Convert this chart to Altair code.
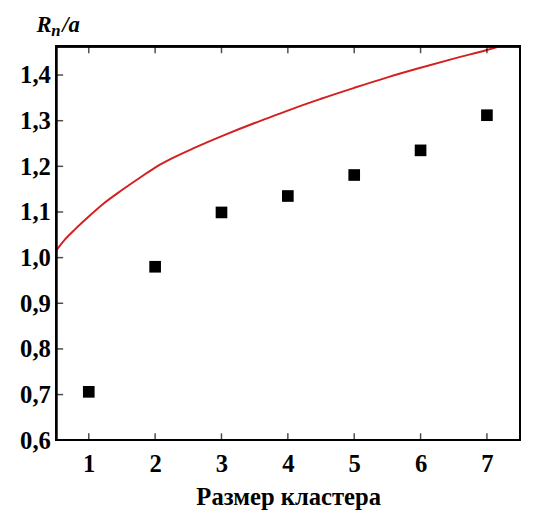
import altair as alt
import pandas as pd

# Data
cluster_size = [1, 2, 3, 4, 5, 6, 7]
rn_over_a = [0.706, 0.980, 1.099, 1.135, 1.181, 1.235, 1.312]

curve_x = [0.51, 0.63, 0.8, 1.0, 1.22, 1.5, 1.77, 2.03, 2.26, 2.6, 3.05, 3.5,
           3.89, 4.07, 4.5, 5.0, 5.5, 6.0, 6.5, 7.0, 7.15]
curve_y = [1.016, 1.038, 1.063, 1.090, 1.118, 1.148, 1.175, 1.200, 1.218, 1.241,
           1.269, 1.295, 1.316, 1.326, 1.348, 1.372, 1.395, 1.416, 1.436, 1.455, 1.461]

x_ticks = [1, 2, 3, 4, 5, 6, 7]
y_ticks = [0.6, 0.7, 0.8, 0.9, 1.0, 1.1, 1.2, 1.3, 1.4]

W, H = 471, 400
FONT = "Liberation Serif"

pts = pd.DataFrame({"n": cluster_size, "r": rn_over_a})
crv = pd.DataFrame({"n": curve_x, "r": curve_y})
xt = pd.DataFrame({"v": x_ticks})
yt = pd.DataFrame({"v": y_ticks})
one = pd.DataFrame({"k": [0]})

xscale = alt.Scale(domain=[0.51, 7.5], nice=False, zero=False)
yscale = alt.Scale(domain=[0.6, 1.463], nice=False, zero=False)

xaxis = alt.Axis(values=x_ticks, ticks=False, domain=False, grid=False, format="d",
                 labelFont=FONT, labelFontSize=25, labelFontWeight="bold",
                 labelColor="black", labelPadding=12,
                 title="Размер кластера", titleFont=FONT, titleFontSize=25,
                 titleFontWeight="bold", titleColor="black", titlePadding=8)
yaxis = alt.Axis(values=y_ticks, ticks=False, domain=False, grid=False,
                 labelFont=FONT, labelFontSize=25, labelFontWeight="bold",
                 labelColor="black", labelPadding=6,
                 labelExpr="replace(format(datum.value, '.1f'), '.', ',')",
                 title=None)

line = alt.Chart(crv).mark_line(color="#d42020", strokeWidth=2,
                                interpolate="monotone").encode(
    x=alt.X("n:Q", scale=xscale, axis=xaxis),
    y=alt.Y("r:Q", scale=yscale, axis=yaxis),
)

squares = alt.Chart(pts).mark_square(color="black", opacity=1, size=140, filled=True).encode(
    x=alt.X("n:Q", scale=xscale),
    y=alt.Y("r:Q", scale=yscale),
)

frame = alt.Chart(pts).mark_rect(fill=None, fillOpacity=0, stroke="black", strokeWidth=1.8).encode(
    x=alt.value(0), x2=alt.value(W), y=alt.value(0), y2=alt.value(H))

tk = dict(color="black", thickness=1.5, size=7)
tick_bottom = alt.Chart(xt).mark_tick(orient="vertical", **tk).encode(
    x=alt.X("v:Q", scale=xscale), y=alt.value(H - 3.5))
tick_top = alt.Chart(xt).mark_tick(orient="vertical", **tk).encode(
    x=alt.X("v:Q", scale=xscale), y=alt.value(3.5))
tick_left = alt.Chart(yt).mark_tick(orient="horizontal", **tk).encode(
    y=alt.Y("v:Q", scale=yscale), x=alt.value(3.5))

title_style = dict(font=FONT, fontWeight="bold", fontStyle="italic", color="black",
                   align="left", baseline="alphabetic")
t_r = alt.Chart(one).mark_text(text="R", fontSize=23, **title_style).encode(
    x=alt.value(-20), y=alt.value(-15))
t_n = alt.Chart(one).mark_text(text="n", fontSize=17, **title_style).encode(
    x=alt.value(-5), y=alt.value(-10))
t_a = alt.Chart(one).mark_text(text="/a", fontSize=23, **title_style).encode(
    x=alt.value(6), y=alt.value(-15))

chart = alt.layer(line, squares, frame, tick_bottom, tick_top, tick_left,
                  t_r, t_n, t_a).properties(
    width=W, height=H,
    background="white",
    autosize=alt.AutoSizeParams(type="none"),
    padding={"left": 49, "top": 35, "right": 7, "bottom": 68},
).configure_view(stroke="black", strokeWidth=1.8)

chart.save("out.html", embed_options={"renderer": "svg", "actions": False})
